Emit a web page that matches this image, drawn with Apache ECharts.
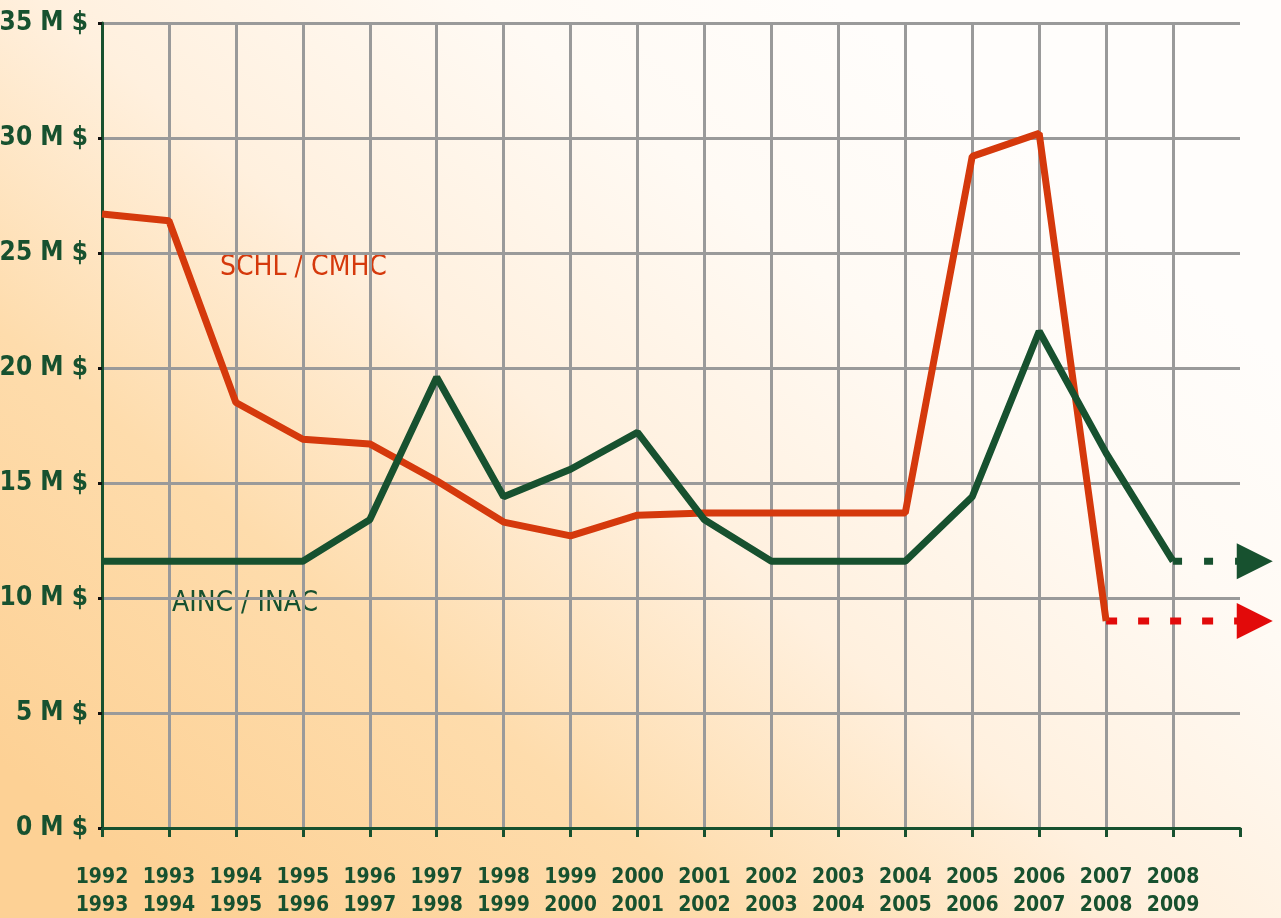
<!DOCTYPE html>
<html><head><meta charset="utf-8">
<script src="https://cdn.jsdelivr.net/npm/echarts@6/dist/echarts.min.js"></script>
<style>html,body{margin:0;padding:0;}#c{width:1281px;height:918px;}</style>
</head><body><div id="c"></div>
<script>
const categories = ['1992\n1993','1993\n1994','1994\n1995','1995\n1996','1996\n1997','1997\n1998','1998\n1999','1999\n2000','2000\n2001','2001\n2002','2002\n2003','2003\n2004','2004\n2005','2005\n2006','2006\n2007','2007\n2008','2008\n2009'];
const schl = [26.7,26.4,18.5,16.9,16.7,15.1,13.3,12.7,13.6,13.7,13.7,13.7,13.7,29.2,30.2,9.0,null];
const ainc = [11.6,11.6,11.6,11.6,13.4,19.6,14.4,15.6,17.2,13.4,11.6,11.6,11.6,14.4,21.6,16.3,11.6];
const schlProjection = [9.0, 9.0];
const aincProjection = [11.6, 11.6];
const yTicks = [0,5,10,15,20,25,30,35];

const FONT = '"Liberation Sans Narrow","DejaVu Sans Condensed","Liberation Sans",sans-serif';
const GREEN = '#17512f';
const RED = '#d5390c';
const RED2 = '#e20a0a';
const ARROW_END = 17.22;

const toPairs = arr => arr.map((v,i)=> v==null?null:[i,v]).filter(Boolean);
const arrowData = (x0, vals, color) => [
  {value:[x0, vals[0]], symbol:'none'},
  {value:[ARROW_END, vals[1]], symbol:'triangle', symbolSize:[36,36], symbolRotate:-90, itemStyle:{color:color}}
];

const chart = echarts.init(document.getElementById('c'));
chart.setOption({
  animation:false,
  backgroundColor:{type:'linear',x:0.15,y:1,x2:0.7,y2:0.05,colorStops:[
    {offset:0,color:'#fdd195'},{offset:0.3,color:'#fedcac'},{offset:0.55,color:'#fff0de'},{offset:0.8,color:'#fffaf4'},{offset:1,color:'#fffdfb'}]},
  grid:{left:102,right:41,top:23,bottom:90,containLabel:false,outerBoundsMode:'none'},
  xAxis:{type:'value',min:0,max:17,interval:1,
    axisLine:{show:true,onZero:false,lineStyle:{color:GREEN,width:3}},
    axisTick:{show:true,length:9,lineStyle:{color:GREEN,width:3}},
    axisLabel:{margin:36,color:GREEN,fontFamily:FONT,fontSize:21,fontWeight:'bold',lineHeight:28,
      formatter:v=> categories[v]!==undefined?categories[v]:''},
    splitLine:{show:true,showMinLine:false,showMaxLine:false,lineStyle:{color:'#9a9a9a',width:3}}},
  yAxis:{type:'value',min:0,max:35,interval:5,
    axisLine:{show:true,lineStyle:{color:GREEN,width:3}},
    axisTick:{show:true,length:4,lineStyle:{color:'#111',width:3}},
    axisLabel:{margin:14,color:GREEN,fontFamily:FONT,fontSize:26,fontWeight:'bold',
      formatter:v=> yTicks.includes(v)? v+' M $':''},
    splitLine:{show:true,showMaxLine:true,lineStyle:{color:'#9a9a9a',width:3}}},
  series:[
    {type:'line',data:toPairs(schl),symbol:'none',lineStyle:{color:RED,width:7},z:3},
    {type:'line',data:toPairs(ainc),symbol:'none',lineStyle:{color:GREEN,width:7},z:4},
    {type:'line',clip:false,data:arrowData(15, schlProjection, RED2),showSymbol:true,
      itemStyle:{color:RED2},
      lineStyle:{color:RED2,width:7,type:[11,21],cap:'butt'},z:2},
    {type:'line',clip:false,data:arrowData(16, aincProjection, GREEN),showSymbol:true,
      itemStyle:{color:GREEN},
      lineStyle:{color:GREEN,width:7,type:[9,22],cap:'butt'},z:2}
  ],
  graphic:[
    {type:'text',left:220,top:254,style:{text:'SCHL / CMHC',fill:RED,font:'28px '+FONT}},
    {type:'text',left:172,top:590,style:{text:'AINC / INAC',fill:GREEN,font:'28px '+FONT}}
  ]
});
</script></body></html>
